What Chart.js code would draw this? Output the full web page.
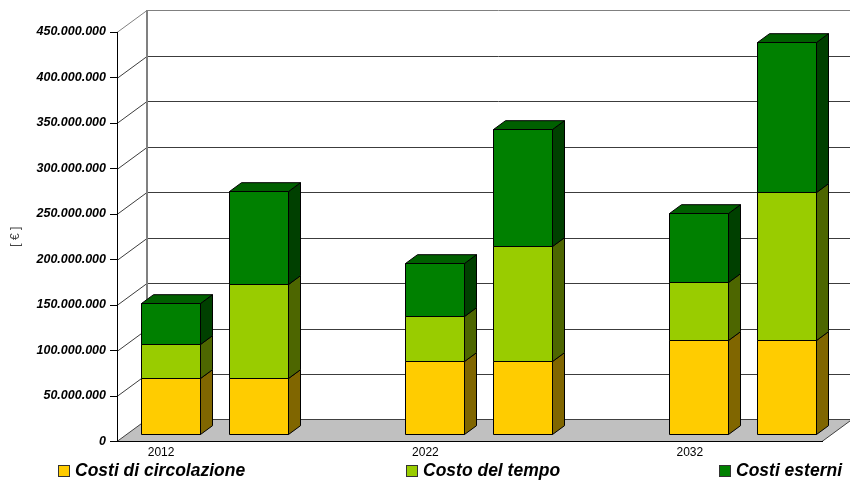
<!DOCTYPE html>
<html>
<head>
<meta charset="utf-8">
<script src="https://cdn.jsdelivr.net/npm/chart.js@4/dist/chart.umd.min.js"></script>
<style>
  html, body { margin: 0; padding: 0; background: #fff; }
  canvas { display: block; }
</style>
</head>
<body>
<canvas id="chart" width="850" height="483"></canvas>
<script>
// Categories: two columns per year, with an empty slot between year groups
const categories = ['2012', '', '', '2022', '', '', '2032', ''];

// Cost components in euro (stacked bottom to top)
const costiCircolazione = [62e6, 62e6, null, 81e6, 81e6, null, 104e6, 104e6];
const costoTempo        = [38e6, 104e6, null, 49.5e6, 127e6, null, 64e6, 163e6];
const costiEsterni      = [45e6, 101.5e6, null, 58e6, 128e6, null, 76e6, 165e6];

const seriesNames = ['Costi di circolazione', 'Costo del tempo', 'Costi esterni'];

// Value axis
const yMin = 0;
const yMax = 450e6;
const yStep = 50e6;
const yTitle = '[ € ]';

const FONT = "'Liberation Sans', Arial, sans-serif";

// Oblique projection of the floor/back wall, and where the columns sit in depth
const depth = { x: 30, y: 22 };
const barFrontAt = 0.3;
const barDepth = 0.4;

function formatEuro(v) {
  return String(Math.round(v)).replace(/\B(?=(\d{3})+(?!\d))/g, '.');
}

// Floor, back wall and the grid that runs from the value axis onto the wall
const wallsPlugin = {
  id: 'walls',
  beforeDraw(chart) {
    const { ctx, chartArea: a, scales: { y } } = chart;
    const bx = depth.x, by = depth.y;
    ctx.save();
    ctx.lineWidth = 1;

    // floor
    ctx.beginPath();
    ctx.moveTo(a.left, a.bottom);
    ctx.lineTo(a.right, a.bottom);
    ctx.lineTo(a.right + bx, a.bottom - by);
    ctx.lineTo(a.left + bx, a.bottom - by);
    ctx.closePath();
    ctx.fillStyle = '#c0c0c0';
    ctx.fill();
    ctx.strokeStyle = '#404040';
    ctx.stroke();

    // grid lines: diagonal from the axis to the wall, then along the wall
    const last = y.ticks.length - 1;
    y.ticks.forEach((t, i) => {
      if (t.value === yMin) return;
      const py = Math.round(y.getPixelForValue(t.value)) + 0.5;
      ctx.strokeStyle = i === last ? '#808080' : '#3c3c3c';
      ctx.beginPath();
      ctx.moveTo(a.left, py);
      ctx.lineTo(a.left + bx, py - by);
      ctx.lineTo(chart.width, py - by);
      ctx.stroke();
    });

    // left edge of the back wall
    ctx.strokeStyle = '#808080';
    ctx.lineWidth = 2;
    ctx.beginPath();
    ctx.moveTo(a.left + bx, Math.round(a.top) - by);
    ctx.lineTo(a.left + bx, a.bottom - by);
    ctx.stroke();
    ctx.restore();
  }
};

// Columns drawn as boxes: front face, right side and top
const columns3d = {
  id: 'columns3d',
  beforeDatasetsDraw(chart) {
    const { ctx } = chart;
    const metas = chart.getSortedVisibleDatasetMetas();
    const ox = depth.x * barFrontAt, oy = depth.y * barFrontAt;
    const dx = depth.x * barDepth, dy = depth.y * barDepth;

    function face(pts, fill) {
      ctx.beginPath();
      ctx.moveTo(pts[0][0], pts[0][1]);
      for (let k = 1; k < pts.length; k++) ctx.lineTo(pts[k][0], pts[k][1]);
      ctx.closePath();
      ctx.fillStyle = fill;
      ctx.fill();
      ctx.stroke();
    }

    ctx.save();
    ctx.lineWidth = 1;
    ctx.strokeStyle = '#000';
    ctx.lineJoin = 'miter';
    for (let i = 0; i < chart.data.labels.length; i++) {
      const segs = metas
        .map(m => ({ el: m.data[i], ds: chart.data.datasets[m.index], v: chart.data.datasets[m.index].data[i] }))
        .filter(s => s.el && s.v != null && s.v !== 0);
      segs.forEach((s, k) => {
        const p = s.el.getProps(['x', 'y', 'base', 'width'], true);
        const x0 = Math.round(p.x - p.width / 2 + ox) + 0.5;
        const x1 = Math.round(p.x + p.width / 2 + ox) + 0.5;
        const yt = Math.round(p.y - oy) + 0.5;
        const yb = Math.round(p.base - oy) + 0.5;
        face([[x0, yb], [x1, yb], [x1, yt], [x0, yt]], s.ds.backgroundColor);
        face([[x1, yb], [x1 + dx, yb - dy], [x1 + dx, yt - dy], [x1, yt]], s.ds.sideColor);
        if (k === segs.length - 1) {
          face([[x0, yt], [x1, yt], [x1 + dx, yt - dy], [x0 + dx, yt - dy]], s.ds.topColor);
        }
      });
    }
    ctx.restore();
    return false;
  }
};

// Legend row along the bottom edge
const legendSlots = [58, 406, 719];
const legendRow = { id: 'legendRow',
  afterDraw(chart) {
    const { ctx } = chart;
    ctx.save();
    ctx.font = "italic bold 17.5px " + FONT;
    ctx.textBaseline = 'middle';
    ctx.textAlign = 'left';
    chart.data.datasets.forEach((ds, i) => {
      const x = legendSlots[i];
      ctx.fillStyle = ds.backgroundColor;
      ctx.fillRect(x, 465, 11, 11);
      ctx.strokeStyle = '#333';
      ctx.lineWidth = 1;
      ctx.strokeRect(x + 0.5, 465.5, 11, 11);
      ctx.fillStyle = '#000';
      ctx.fillText(ds.label, x + 17, 471.5);
    });
    ctx.restore();
  }
};

new Chart(document.getElementById('chart'), {
  type: 'bar',
  data: {
    labels: categories,
    datasets: [
      { label: seriesNames[0], data: costiCircolazione, backgroundColor: '#ffcc00', sideColor: '#806600', topColor: '#ccA300' },
      { label: seriesNames[1], data: costoTempo, backgroundColor: '#99cc00', sideColor: '#4d6600', topColor: '#7aa300' },
      { label: seriesNames[2], data: costiEsterni, backgroundColor: '#008000', sideColor: '#004000', topColor: '#006000' }
    ]
  },
  options: {
    responsive: false,
    devicePixelRatio: 1,
    animation: false,
    layout: { padding: { left: 0, right: 28, top: 32, bottom: 0 } },
    datasets: { bar: { categoryPercentage: 1, barPercentage: 0.67 } },
    plugins: { legend: { display: false }, tooltip: { enabled: false } },
    scales: {
      x: {
        stacked: true,
        grid: { display: false, drawTicks: false },
        border: { display: true, color: '#000', width: 1 },
        ticks: { color: '#000', font: { family: FONT, size: 12 }, padding: 4, maxRotation: 0, autoSkip: false },
        afterFit: s => { s.height = 41.5; }
      },
      y: {
        stacked: true,
        min: yMin,
        max: yMax,
        ticks: {
          stepSize: yStep,
          color: '#000',
          padding: 4,
          font: { family: FONT, size: 12.5, style: 'italic', weight: 'bold' },
          callback: v => formatEuro(v)
        },
        grid: { drawOnChartArea: false, drawTicks: true, tickLength: 7, color: '#000' },
        border: { display: true, color: '#000', width: 1 },
        title: { display: true, text: yTitle, color: '#444', font: { family: FONT, size: 12 }, padding: { top: 8, bottom: 0 } },
        afterFit: s => { s.width = 117; }
      }
    }
  },
  plugins: [wallsPlugin, columns3d, legendRow]
});
</script>
</body>
</html>
